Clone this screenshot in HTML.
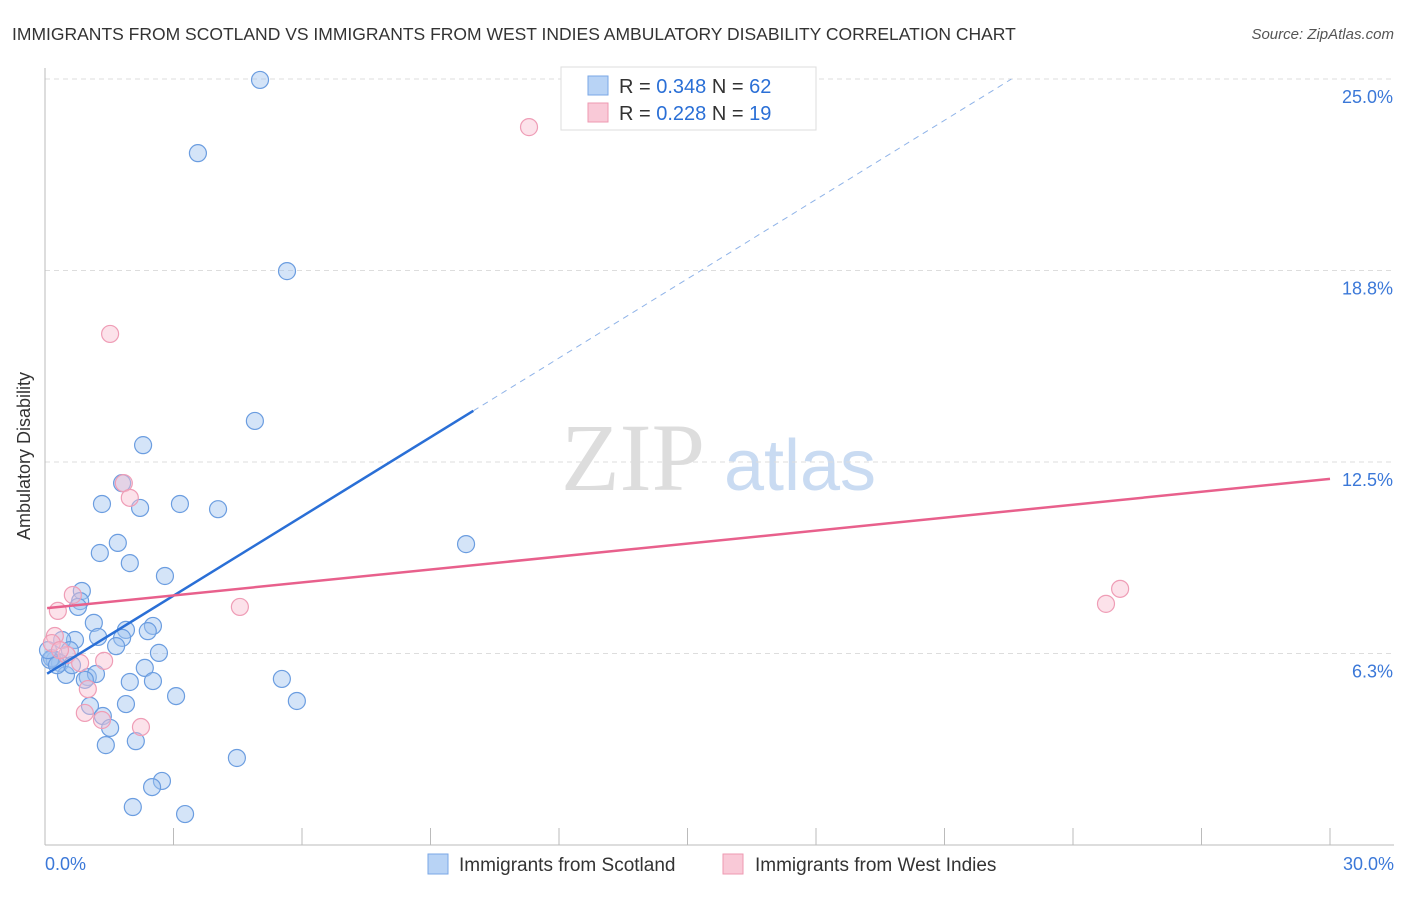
<!DOCTYPE html>
<html><head><meta charset="utf-8"><style>
body{margin:0;background:#fff;font-family:"Liberation Sans",sans-serif;}
</style></head><body>
<svg width="1406" height="892" xmlns="http://www.w3.org/2000/svg" font-family="Liberation Sans, sans-serif">
<text x="12" y="40" font-size="17.5" fill="#333">IMMIGRANTS FROM SCOTLAND VS IMMIGRANTS FROM WEST INDIES AMBULATORY DISABILITY CORRELATION CHART</text>
<text x="1394" y="39" font-size="15" fill="#555" font-style="italic" text-anchor="end">Source: ZipAtlas.com</text>
<g>
<text x="633" y="490" font-size="96" font-family="Liberation Serif, serif" fill="#ddd" text-anchor="middle">ZIP</text>
<text x="800" y="490" font-size="72" fill="#c9dbf2" text-anchor="middle">atlas</text>
</g>
<g id="grid"></g>
<line x1="45" y1="68" x2="45" y2="845" stroke="#bbb"/>
<line x1="45" y1="845" x2="1394" y2="845" stroke="#bbb"/>
<g id="ticks"></g>
<text x="30" y="456" font-size="18" fill="#333" transform="rotate(-90 30 456)" text-anchor="middle">Ambulatory Disability</text>
<text x="45" y="870" font-size="18" fill="#3b78d8">0.0%</text>
<text x="1394" y="870" font-size="18" fill="#3b78d8" text-anchor="end">30.0%</text>
<g id="pts"></g>
<g id="lines"></g>
<g>
<rect x="561" y="67" width="255" height="63" fill="#fff" stroke="#ddd"/>
<rect x="588" y="76" width="20" height="19" fill="#b8d3f5" stroke="#7aa7e6"/>
<rect x="588" y="103" width="20" height="19" fill="#f9c9d7" stroke="#ee99b2"/>
<text x="619" y="93" font-size="20" fill="#333">R = <tspan fill="#2a6fd6">0.348</tspan>   N = <tspan fill="#2a6fd6">62</tspan></text>
<text x="619" y="120" font-size="20" fill="#333">R = <tspan fill="#2a6fd6">0.228</tspan>   N = <tspan fill="#2a6fd6">19</tspan></text>
</g>
<g>
<rect x="428" y="854" width="20" height="20" fill="#b8d3f5" stroke="#7aa7e6"/>
<text x="459" y="871" font-size="19" fill="#333">Immigrants from Scotland</text>
<rect x="723" y="854" width="20" height="20" fill="#f9c9d7" stroke="#ee99b2"/>
<text x="755" y="871" font-size="19" fill="#333">Immigrants from West Indies</text>
</g>
</svg>
<script>
const yTicks=[6.25,12.5,18.75,25];
const yTickLabels=["6.3%","12.5%","18.8%","25.0%"];
const xTicks=[0,3,6,9,12,15,18,21,24,27,30];
const blueX=[5.02,3.57,5.65,4.90,2.29,1.33,3.15,2.22,4.04,1.80,9.83,1.70,1.28,1.98,2.80,0.86,0.82,0.77,1.14,1.89,2.52,2.40,1.24,1.80,1.66,0.70,0.40,0.58,2.66,0.23,0.35,0.16,2.33,0.49,0.63,1.00,1.19,1.98,2.52,5.53,3.06,5.88,1.05,1.89,1.35,1.52,2.12,1.42,4.48,2.73,2.50,2.05,3.27,0.12,0.28,0.07,0.93];
const blueY=[24.97,22.58,18.73,13.84,13.05,11.13,11.13,11.00,10.96,11.81,9.82,9.86,9.53,9.20,8.78,8.29,7.96,7.77,7.25,7.02,7.15,6.98,6.79,6.76,6.49,6.69,6.69,6.36,6.27,6.04,5.94,6.10,5.78,5.55,5.87,5.48,5.58,5.32,5.35,5.42,4.86,4.70,4.54,4.60,4.21,3.82,3.39,3.26,2.84,2.09,1.89,1.24,1.01,6.04,5.87,6.36,5.39];
const pinkX=[11.30,1.52,1.84,1.98,25.10,24.77,4.55,0.30,0.65,0.23,0.16,0.51,0.82,1.38,1.00,0.93,1.33,2.24,0.35];
const pinkY=[23.43,16.68,11.81,11.33,8.36,7.87,7.77,7.64,8.16,6.82,6.59,6.20,5.94,6.01,5.09,4.31,4.08,3.85,6.36];
const blueTrend=[5.55,0.862];
const pinkTrend=[7.73,0.1407];
const NS="http://www.w3.org/2000/svg";
const X=v=>45+v*1285/30, Y=v=>845-v*766/25;
function mk(t,a,p){const e=document.createElementNS(NS,t);for(const k in a)e.setAttribute(k,a[k]);document.getElementById(p).appendChild(e);return e;}
yTicks.forEach((t,i)=>{
 const g=mk('line',{x1:45,x2:1394,y1:Y(t),y2:Y(t),stroke:'#ddd','stroke-dasharray':'5,4'},'grid');
 
 
 const l=mk('text',{x:1393,y:Y(t)+24,'font-size':18,fill:'#3b78d8','text-anchor':'end'},'grid');
 l.textContent=yTickLabels[i];
 
 
});
xTicks.forEach(t=>{
 const k=mk('line',{x1:X(t),x2:X(t),y1:828,y2:845,stroke:'#bbb'},'ticks');
 
 
});
blueX.forEach((x,i)=>{
 const c=mk('circle',{cx:X(x),cy:Y(blueY[i]),r:8.5,fill:'rgba(160,196,240,0.45)',stroke:'#6b9de0','stroke-width':1.2},'pts');
 
 
});
pinkX.forEach((x,i)=>{
 const c=mk('circle',{cx:X(x),cy:Y(pinkY[i]),r:8.5,fill:'rgba(248,190,208,0.45)',stroke:'#ef9db6','stroke-width':1.2},'pts');
 
 
});
const bl=mk('line',{x1:X(0.05),y1:Y(blueTrend[0]+blueTrend[1]*0.05),x2:X(10),y2:Y(blueTrend[0]+blueTrend[1]*10),stroke:'#2a6fd6','stroke-width':2.5},'lines');


const xe=(25-blueTrend[0])/blueTrend[1];
const bd=mk('line',{x1:X(10),y1:Y(blueTrend[0]+blueTrend[1]*10),x2:X(xe),y2:Y(25),stroke:'#8fb3e8','stroke-width':1,'stroke-dasharray':'6,5'},'lines');


const pl=mk('line',{x1:X(0.05),y1:Y(pinkTrend[0]),x2:X(30),y2:Y(pinkTrend[0]+pinkTrend[1]*30),stroke:'#e8608c','stroke-width':2.5},'lines');


</script>
</body></html>
